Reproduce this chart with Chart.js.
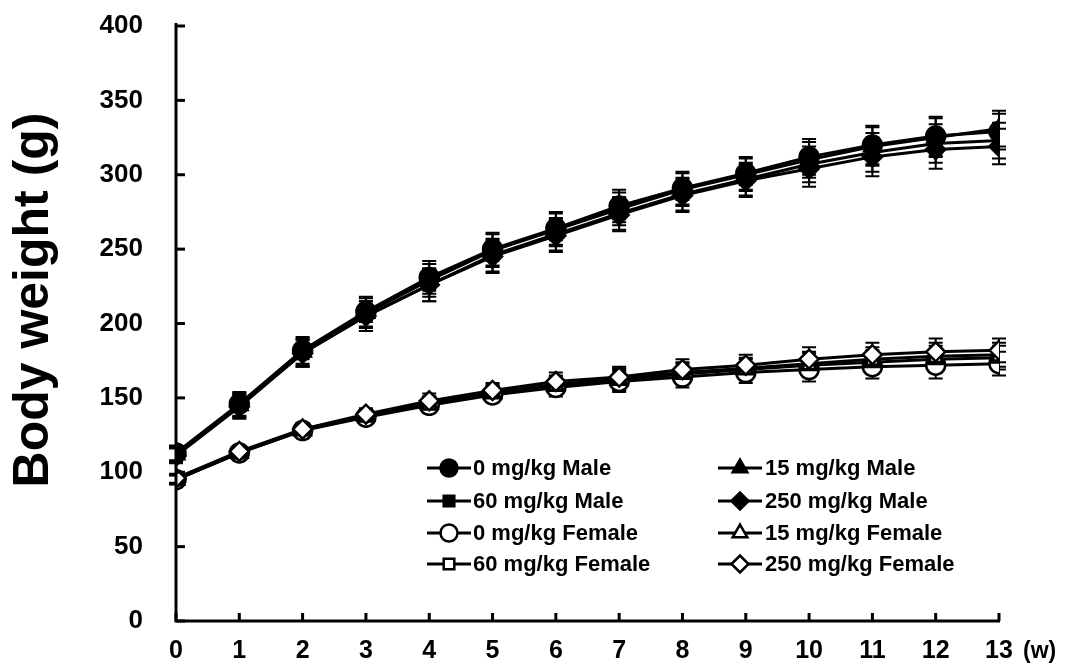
<!DOCTYPE html>
<html>
<head>
<meta charset="utf-8">
<script src="https://cdn.jsdelivr.net/npm/chart.js@4/dist/chart.umd.min.js"></script>
<style>
html,body{margin:0;padding:0;background:#fff;}
#wrap{width:1069px;height:667px;}
</style>
</head>
<body>
<div id="wrap"><canvas id="c" width="1069" height="667"></canvas></div>
<script>
// ---- data ----
const weeks = [0,1,2,3,4,5,6,7,8,9,10,11,12,13];
const yTicks = [0,50,100,150,200,250,300,350,400];
const seriesNames = ['0 mg/kg Male','15 mg/kg Male','60 mg/kg Male','250 mg/kg Male',
                     '0 mg/kg Female','15 mg/kg Female','60 mg/kg Female','250 mg/kg Female'];
const male0   = [113,146,182,208,231,250,264,279,291,301,312,320,326,329];
const male15  = [112,145,181,207,229,249,263,277,290,300,310,319,325,331];
const male60  = [112,145,180,205,226,246,260,274,287,297,307,315,321,323];
const male250 = [111,144,180,205,226,245,259,273,286,296,304,312,317,319];
const female0   = [95,113,128,137,145,152,157,161,164,167,169,171,172,173];
const female15  = [95,113,128,138,146,153,158,162,166,169,172,174,176,177];
const female60  = [95,113,129,138,146,154,159,163,167,170,173,176,178,179];
const female250 = [96,114,129,139,148,155,161,164,169,172,176,179,181,182];
const maleSD   = [5,8,9,10,11,11,11,11,11,11,12,13,13,12];
const femaleSD = [3,3,4,4,5,5,6,7,7,7,8,8,9,8];

const FONT = '"Liberation Sans", Arial, sans-serif';
const styles = ['circle','triangle','rect','rectRot','circle','triangle','rect','rectRot'];
const drawOrder = [0,1,2,3,7,6,5,4];
const values = [male0, male15, male60, male250, female0, female15, female60, female250];
const sds = [maleSD, maleSD, maleSD, maleSD, femaleSD, femaleSD, femaleSD, femaleSD];

const datasets = values.map((vals, i) => ({
  label: seriesNames[i],
  data: weeks.map((w, j) => ({x: w, y: vals[j]})),
  sd: sds[i],
  order: drawOrder[i],
  borderColor: '#000',
  borderWidth: 3,
  backgroundColor: i < 4 ? '#000' : '#fff',
  pointBackgroundColor: i < 4 ? '#000' : '#fff',
  pointBorderColor: '#000',
  pointBorderWidth: 2.5,
  pointStyle: styles[i],
  pointRadius: styles[i] === 'rect' ? 8 : 9.5,
  pointHoverRadius: 9,
  tension: 0,
  fill: false
}));

const bgPlugin = {
  id: 'bg',
  beforeDraw(chart) {
    const ctx = chart.ctx;
    ctx.save();
    ctx.fillStyle = '#fff';
    ctx.fillRect(0, 0, chart.width, chart.height);
    ctx.restore();
  }
};

const errPlugin = {
  id: 'errbars',
  beforeDatasetsDraw(chart) {
    const ctx = chart.ctx;
    const ys = chart.scales.y, xs = chart.scales.x;
    ctx.save();
    ctx.strokeStyle = '#000';
    ctx.lineWidth = 2;
    chart.data.datasets.forEach(ds => {
      ds.data.forEach((p, j) => {
        const x = xs.getPixelForValue(p.x);
        const yt = ys.getPixelForValue(p.y + ds.sd[j]);
        const yb = ys.getPixelForValue(p.y - ds.sd[j]);
        ctx.beginPath();
        ctx.moveTo(x, yt); ctx.lineTo(x, yb);
        ctx.moveTo(x - 7, yt); ctx.lineTo(x + 7, yt);
        ctx.moveTo(x - 7, yb); ctx.lineTo(x + 7, yb);
        ctx.stroke();
      });
    });
    ctx.restore();
  }
};

const axisPlugin = {
  id: 'axisDeco',
  afterDraw(chart) {
    const ctx = chart.ctx;
    const ys = chart.scales.y, xs = chart.scales.x;
    const a = chart.chartArea;
    ctx.save();
    ctx.strokeStyle = '#000';
    ctx.lineWidth = 3;
    ctx.lineCap = 'butt';
    ctx.beginPath();
    ctx.moveTo(a.left, ys.getPixelForValue(400) - 3);
    ctx.lineTo(a.left, a.bottom);
    ctx.lineTo(a.right + 1, a.bottom);
    ctx.stroke();
    yTicks.forEach(v => {
      const y = ys.getPixelForValue(v);
      ctx.beginPath(); ctx.moveTo(a.left, y); ctx.lineTo(a.left + 9, y); ctx.stroke();
    });
    weeks.forEach(w => {
      const x = xs.getPixelForValue(w);
      ctx.beginPath(); ctx.moveTo(x, a.bottom); ctx.lineTo(x, a.bottom - 8); ctx.stroke();
    });
    ctx.fillStyle = '#000';
    ctx.font = 'bold 50px ' + FONT;
    ctx.translate(34, 300);
    ctx.rotate(-Math.PI / 2);
    ctx.textAlign = 'center';
    ctx.textBaseline = 'middle';
    ctx.fillText('Body weight (g)', 0, 0);
    ctx.restore();
    ctx.save();
    ctx.fillStyle = '#000';
    ctx.font = 'bold 23px ' + FONT;
    ctx.textAlign = 'left';
    ctx.textBaseline = 'middle';
    ctx.fillText('(w)', 1023, a.bottom + 31);
    ctx.restore();
  }
};

const legendPlugin = {
  id: 'customLegend',
  afterDatasetsDraw(chart) {
    const ctx = chart.ctx;
    const cols = [{mx: 449, tx: 473}, {mx: 740, tx: 765}];
    const rows = [468, 501, 533, 564];
    const order = [[0,1],[2,3],[4,5],[6,7]];
    ctx.save();
    ctx.font = 'bold 22px ' + FONT;
    ctx.textBaseline = 'middle';
    ctx.textAlign = 'left';
    order.forEach((pair, r) => {
      pair.forEach((di, c) => {
        const ds = chart.data.datasets[di];
        const y = rows[r], mx = cols[c].mx;
        ctx.strokeStyle = '#000';
        ctx.lineWidth = 3;
        ctx.beginPath(); ctx.moveTo(mx - 22, y); ctx.lineTo(mx + 22, y); ctx.stroke();
        ctx.fillStyle = ds.pointBackgroundColor;
        ctx.strokeStyle = '#000';
        ctx.lineWidth = 2.5;
        Chart.helpers.drawPoint(ctx, {pointStyle: ds.pointStyle, radius: ds.pointStyle === 'rect' ? 7.5 : 8.5, rotation: 0, borderWidth: 2.5}, mx, y);
        ctx.fillStyle = '#000';
        ctx.fillText(ds.label, cols[c].tx, y + 1);
      });
    });
    ctx.restore();
  }
};

new Chart(document.getElementById('c'), {
  type: 'line',
  data: { datasets },
  plugins: [bgPlugin, errPlugin, axisPlugin, legendPlugin],
  options: {
    responsive: false,
    devicePixelRatio: 1,
    animation: false,
    layout: { padding: { left: 0, right: 70, top: 26, bottom: 0 } },
    plugins: { legend: { display: false }, tooltip: { enabled: false } },
    scales: {
      x: {
        type: 'linear',
        min: 0, max: 13,
        grid: { display: false, drawTicks: false },
        border: { display: false },
        ticks: { stepSize: 1, padding: 15, color: '#000', font: { family: FONT, size: 25, weight: 'bold' } },
        afterFit(s) { s.height = 46; s.paddingLeft = 0; s.paddingRight = 0; }
      },
      y: {
        min: 0, max: 400,
        grid: { display: false, drawTicks: false },
        border: { display: false },
        ticks: { stepSize: 50, padding: 33, color: '#000', font: { family: FONT, size: 26, weight: 'bold' } },
        afterFit(s) { s.width = 176; s.paddingTop = 0; s.paddingBottom = 0; }
      }
    }
  }
});
</script>
</body>
</html>
